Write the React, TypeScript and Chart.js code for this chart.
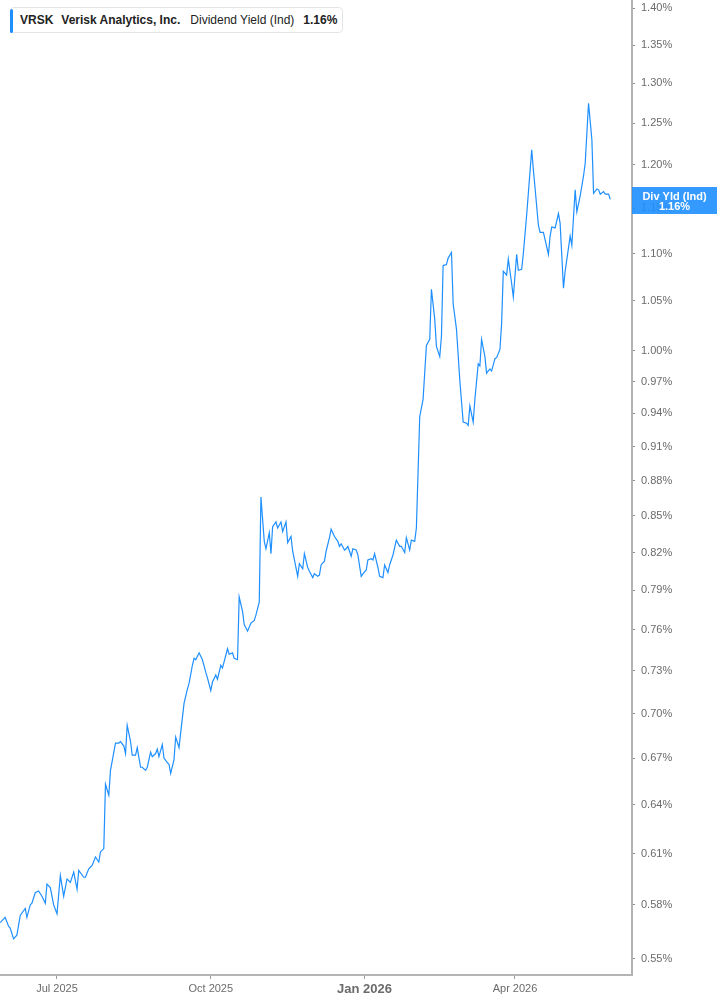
import React, { useEffect, useRef } from "react";
import { Chart, registerables } from "chart.js";

Chart.register(...registerables);

// ---- Data ----
const ticker = "VRSK";
const company = "Verisk Analytics, Inc.";
const metricName = "Dividend Yield (Ind)";
const metricShort = "Div Yld (Ind)";

const dates: string[] = [
  "2025-05-28","2025-05-31","2025-06-02","2025-06-03","2025-06-05","2025-06-07","2025-06-09","2025-06-12","2025-06-13","2025-06-15",
  "2025-06-16","2025-06-18","2025-06-20","2025-06-22","2025-06-24","2025-06-25","2025-06-27","2025-06-29","2025-07-01","2025-07-03",
  "2025-07-05","2025-07-07","2025-07-09","2025-07-11","2025-07-13","2025-07-14","2025-07-17","2025-07-18","2025-07-20","2025-07-22",
  "2025-07-24","2025-07-26","2025-07-27","2025-07-29","2025-07-30","2025-08-01","2025-08-02","2025-08-05","2025-08-07","2025-08-08",
  "2025-08-10","2025-08-11","2025-08-12","2025-08-14","2025-08-15","2025-08-17","2025-08-18","2025-08-20","2025-08-21","2025-08-23",
  "2025-08-24","2025-08-26","2025-08-27","2025-08-29","2025-08-30","2025-08-31","2025-09-02","2025-09-03","2025-09-05","2025-09-06",
  "2025-09-07","2025-09-09","2025-09-10","2025-09-12","2025-09-13","2025-09-15","2025-09-17","2025-09-18","2025-09-20","2025-09-21",
  "2025-09-22","2025-09-24","2025-09-26","2025-09-28","2025-09-29","2025-10-01","2025-10-02","2025-10-04","2025-10-05","2025-10-07",
  "2025-10-08","2025-10-11","2025-10-12","2025-10-14","2025-10-15","2025-10-17","2025-10-18","2025-10-20","2025-10-21","2025-10-23",
  "2025-10-25","2025-10-27","2025-10-28","2025-10-30","2025-10-31","2025-11-02","2025-11-03","2025-11-05","2025-11-06","2025-11-07",
  "2025-11-09","2025-11-10","2025-11-12","2025-11-13","2025-11-15","2025-11-16","2025-11-18","2025-11-19","2025-11-22","2025-11-23",
  "2025-11-25","2025-11-26","2025-11-28","2025-11-29","2025-12-01","2025-12-02","2025-12-04","2025-12-05","2025-12-06","2025-12-08",
  "2025-12-09","2025-12-11","2025-12-12","2025-12-14","2025-12-16","2025-12-17","2025-12-18","2025-12-20","2025-12-21","2025-12-22",
  "2025-12-24","2025-12-25","2025-12-27","2025-12-28","2025-12-30","2025-12-31","2026-01-02","2026-01-03","2026-01-05","2026-01-06",
  "2026-01-07","2026-01-09","2026-01-10","2026-01-12","2026-01-13","2026-01-15","2026-01-16","2026-01-18","2026-01-20","2026-01-22",
  "2026-01-23","2026-01-25","2026-01-26","2026-01-28","2026-01-29","2026-01-31","2026-02-01","2026-02-03","2026-02-05","2026-02-07",
  "2026-02-09","2026-02-10","2026-02-12","2026-02-13","2026-02-15","2026-02-16","2026-02-17","2026-02-19","2026-02-20","2026-02-22",
  "2026-02-23","2026-02-25","2026-02-27","2026-03-01","2026-03-03","2026-03-04","2026-03-05","2026-03-07","2026-03-08","2026-03-10",
  "2026-03-11","2026-03-12","2026-03-14","2026-03-15","2026-03-17","2026-03-18","2026-03-20","2026-03-21","2026-03-23","2026-03-24",
  "2026-03-25","2026-03-27","2026-03-28","2026-03-30","2026-03-31","2026-04-02","2026-04-03","2026-04-05","2026-04-06","2026-04-08",
  "2026-04-11","2026-04-12","2026-04-13","2026-04-15","2026-04-16","2026-04-18","2026-04-19","2026-04-21","2026-04-22","2026-04-23",
  "2026-04-25","2026-04-27","2026-04-28","2026-04-30","2026-05-01","2026-05-03","2026-05-04","2026-05-05","2026-05-07","2026-05-08",
  "2026-05-10","2026-05-12","2026-05-13","2026-05-15","2026-05-17","2026-05-18","2026-05-20","2026-05-21","2026-05-22","2026-05-24",
  "2026-05-25","2026-05-27","2026-05-28",
];

const yieldValues: number[] = [
  0.570,0.573,0.568,0.567,0.561,0.563,0.574,0.578,0.573,0.580,
  0.581,0.587,0.588,0.585,0.581,0.592,0.590,0.580,0.575,0.597,
  0.585,0.595,0.593,0.599,0.589,0.600,0.596,0.596,0.601,0.603,
  0.608,0.605,0.611,0.613,0.653,0.646,0.662,0.680,0.680,0.681,
  0.678,0.673,0.692,0.681,0.672,0.672,0.677,0.664,0.664,0.662,
  0.664,0.674,0.671,0.673,0.676,0.671,0.679,0.670,0.667,0.666,
  0.660,0.669,0.684,0.677,0.687,0.707,0.717,0.721,0.734,0.739,
  0.738,0.743,0.738,0.729,0.725,0.716,0.722,0.727,0.724,0.734,
  0.732,0.746,0.742,0.743,0.739,0.738,0.785,0.774,0.764,0.759,
  0.765,0.767,0.771,0.781,0.866,0.829,0.823,0.836,0.819,0.841,
  0.845,0.840,0.845,0.837,0.845,0.828,0.833,0.821,0.801,0.811,
  0.807,0.819,0.808,0.805,0.800,0.803,0.801,0.802,0.810,0.813,
  0.821,0.832,0.839,0.833,0.829,0.825,0.827,0.822,0.823,0.825,
  0.817,0.823,0.822,0.818,0.801,0.803,0.806,0.814,0.815,0.814,
  0.819,0.808,0.801,0.800,0.810,0.804,0.810,0.818,0.830,0.825,
  0.825,0.820,0.832,0.822,0.830,0.829,0.840,0.937,0.953,1.005,
  1.011,1.062,1.031,1.004,0.994,1.014,1.087,1.088,1.095,1.101,
  1.047,1.021,0.971,0.932,0.931,0.929,0.947,0.932,0.953,0.987,
  0.985,1.011,0.994,0.978,0.982,0.980,0.992,0.993,1.001,1.027,
  1.081,1.077,1.094,1.068,1.054,1.099,1.082,1.083,1.100,1.143,
  1.218,1.194,1.173,1.131,1.123,1.123,1.115,1.099,1.119,1.129,
  1.128,1.144,1.133,1.063,1.081,1.106,1.119,1.109,1.171,1.146,
  1.164,1.187,1.202,1.275,1.230,1.167,1.172,1.171,1.166,1.169,
  1.166,1.166,1.160,
];

const yTickValues: number[] = [
  0.55, 0.58, 0.61, 0.64, 0.67, 0.7, 0.73, 0.76, 0.79, 0.82, 0.85, 0.88,
  0.91, 0.94, 0.97, 1.0, 1.05, 1.1, 1.15, 1.2, 1.25, 1.3, 1.35, 1.4,
];

const xTickDates: string[] = ["2025-07-01", "2025-10-01", "2026-01-01", "2026-04-01"];
const xTickLabels: string[] = ["Jul 2025", "Oct 2025", "Jan 2026", "Apr 2026"];

// ---- Styling ----
const BLUE = "#1e8fff";
const FONT = '"Liberation Sans", Arial, Helvetica, sans-serif';
const EPOCH = Date.UTC(2025, 0, 1);
const dayNum = (s: string) => {
  const [y, m, d] = s.split("-").map(Number);
  return (Date.UTC(y, m - 1, d) - EPOCH) / 86400000;
};

export default function App() {
  const canvasRef = useRef<HTMLCanvasElement | null>(null);

  useEffect(() => {
    const canvas = canvasRef.current;
    if (!canvas) return;
    const points = dates.map((d, i) => ({ x: dayNum(d), y: yieldValues[i] }));
    const last = yieldValues[yieldValues.length - 1];
    const xTickNums = xTickDates.map(dayNum);

    const valueBox = {
      id: "valueBox",
      afterDraw(chart: any) {
        const { ctx, chartArea, scales } = chart;
        const y = scales.y.getPixelForValue(last);
        const left = chartArea.right;
        const right = chart.width;
        ctx.save();
        ctx.fillStyle = "rgba(30,143,255,0.9)";
        ctx.fillRect(left, Math.round(y - 12), right - left, 27);
        ctx.fillStyle = "#ffffff";
        ctx.font = `bold 11px ${FONT}`;
        ctx.textAlign = "center";
        ctx.textBaseline = "middle";
        const cx = (left + right) / 2;
        ctx.fillText(metricShort, cx, y - 2.5);
        ctx.fillText(last.toFixed(2) + "%", cx, y + 7.5);
        ctx.restore();
      },
    };

    const chart = new Chart(canvas, {
      type: "line",
      data: {
        datasets: [
          {
            data: points,
            borderColor: BLUE,
            borderWidth: 1.2,
            pointRadius: 0,
            tension: 0,
            fill: false,
          },
        ],
      },
      options: {
        animation: false,
        responsive: false,
        devicePixelRatio: 1,
        events: [],
        layout: { padding: 0 },
        plugins: { legend: { display: false }, tooltip: { enabled: false } },
        scales: {
          x: {
            type: "linear",
            min: 146.9,
            max: 525,
            afterBuildTicks: (s: any) => {
              s.ticks = xTickNums.map((v) => ({ value: v }));
            },
            afterFit: (s: any) => {
              s.height = 30;
              s.paddingLeft = 0;
              s.paddingRight = 0;
            },
            grid: {
              drawOnChartArea: false,
              drawTicks: true,
              tickLength: 4,
              color: "#9a9a9a",
              lineWidth: 1,
            },
            border: { display: true, color: "#b4b4b4", width: 2 },
            ticks: {
              autoSkip: false,
              maxRotation: 0,
              padding: 3,
              color: "#6b6b6b",
              font: (ctx: any) => {
                const idx = xTickNums.indexOf(ctx.tick ? ctx.tick.value : NaN);
                const isYear = idx >= 0 && xTickLabels[idx].startsWith("Jan");
                return isYear
                  ? { family: FONT, size: 13, weight: "bold" }
                  : { family: FONT, size: 11, weight: "normal" };
              },
              callback: (v: any) => {
                const idx = xTickNums.indexOf(Number(v));
                return idx >= 0 ? xTickLabels[idx] : "";
              },
            },
          },
          y: {
            type: "logarithmic",
            position: "right",
            min: 0.54142,
            max: 1.41105,
            afterBuildTicks: (s: any) => {
              s.ticks = yTickValues.map((v) => ({ value: v }));
            },
            afterFit: (s: any) => {
              s.width = 85;
              s.paddingTop = 0;
              s.paddingBottom = 0;
            },
            grid: {
              drawOnChartArea: false,
              drawTicks: true,
              tickLength: 3,
              color: "#8a8a8a",
              lineWidth: 1,
            },
            border: { display: true, color: "#b4b4b4", width: 2 },
            ticks: {
              autoSkip: false,
              padding: 6,
              color: "#6b6b6b",
              font: { family: FONT, size: 11 },
              callback: (v: any) => Number(v).toFixed(2) + "%",
            },
          },
        },
      } as any,
      plugins: [valueBox],
    });

    return () => chart.destroy();
  }, []);

  return (
    <div style={{ position: "absolute", left: 0, top: 0, width: 717, height: 1005, background: "#fff" }}>
      <canvas ref={canvasRef} width={717} height={1005} style={{ display: "block", width: 717, height: 1005 }} />
      <div
        style={{
          position: "absolute",
          left: 10,
          top: 7,
          width: 333,
          height: 26,
          boxSizing: "border-box",
          border: "1px solid #e4e4e4",
          borderRadius: 4,
          background: "#fff",
          display: "flex",
          alignItems: "center",
          paddingLeft: 9,
          fontFamily: FONT,
          fontSize: 12,
          color: "#222",
          whiteSpace: "nowrap",
        }}
      >
        <div
          style={{
            position: "absolute",
            left: -1,
            top: 1,
            bottom: -1,
            width: 3,
            background: BLUE,
            borderRadius: 2,
          }}
        />
        <span style={{ fontWeight: 700, marginRight: 8 }}>{ticker}</span>
        <span style={{ fontWeight: 700, marginRight: 10 }}>{company}</span>
        <span style={{ marginRight: 9 }}>{metricName}</span>
        <span style={{ fontWeight: 700 }}>{(yieldValues[yieldValues.length - 1]).toFixed(2)}%</span>
      </div>
    </div>
  );
}
